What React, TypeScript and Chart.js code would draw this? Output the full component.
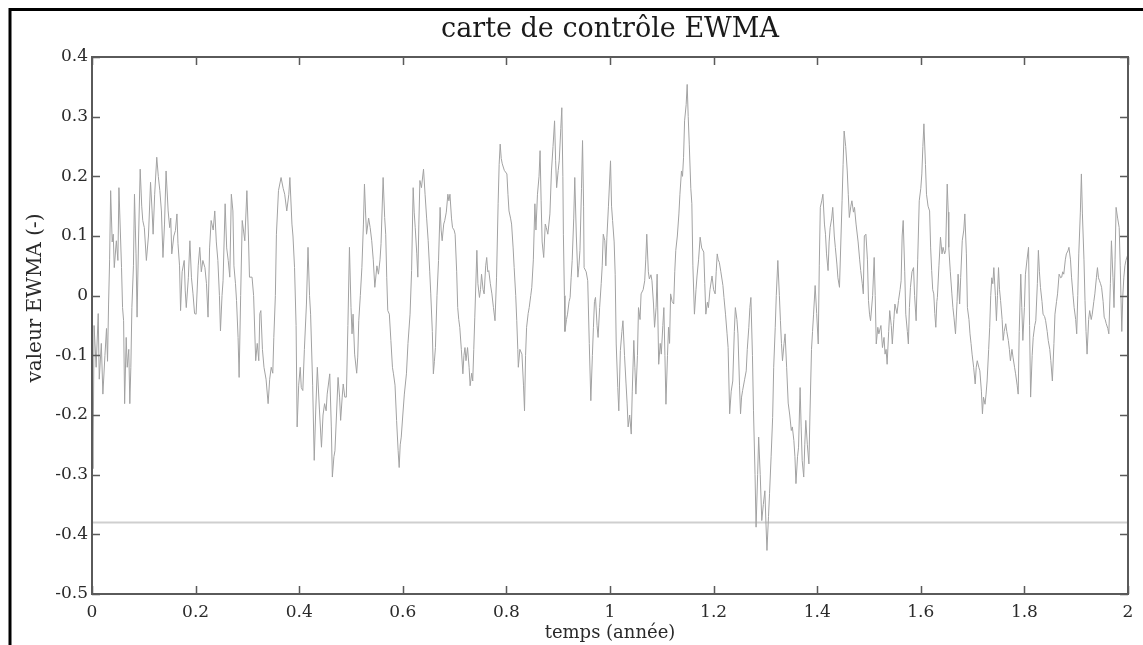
import React, { useEffect, useRef } from "react";
import { Chart, registerables } from "chart.js";
Chart.register(...registerables);

const titre = "carte de contrôle EWMA";
const xTitre = "temps (année)";
const yTitre = "valeur EWMA (-)";
const xTicks = [0, 0.2, 0.4, 0.6, 0.8, 1, 1.2, 1.4, 1.6, 1.8, 2];
const xTickLabels = ["0", "0.2", "0.4", "0.6", "0.8", "1", "1.2", "1.4", "1.6", "1.8", "2"];
const yTicks = [-0.5, -0.4, -0.3, -0.2, -0.1, 0, 0.1, 0.2, 0.3, 0.4];
const yTickLabels = ["-0.5", "-0.4", "-0.3", "-0.2", "-0.1", "0", "0.1", "0.2", "0.3", "0.4"];
const limiteTemps = [0, 2];
const limiteValeurs = [-0.38, -0.38];

// [temps (année), valeur EWMA]
const ewmaSeg1: [number, number][] = [
[0.000,-0.17],[0.002,-0.29],[0.004,-0.05],[0.008,-0.12],[0.012,-0.03],[0.014,-0.14],[0.018,-0.08],[0.021,-0.165],[0.025,-0.10],[0.028,-0.055],[0.030,-0.11],[0.032,-0.014],[0.034,0.06],[0.036,0.176],[0.039,0.09],[0.041,0.103],[0.043,0.047],[0.047,0.092],[0.050,0.059],[0.052,0.181],[0.055,0.10],[0.057,0.047],[0.059,-0.02],[0.061,-0.042],[0.063,-0.181],[0.066,-0.07],[0.068,-0.12],[0.071,-0.09],[0.073,-0.181],[0.075,-0.12],[0.077,-0.02],[0.080,0.05],[0.082,0.17],[0.085,0.07],[0.087,-0.036],[0.090,0.10],[0.093,0.212],[0.096,0.15],[0.098,0.126],[0.101,0.114],[0.105,0.059],[0.109,0.10],[0.113,0.19],[0.116,0.142],[0.118,0.103],[0.121,0.17],[0.125,0.232],[0.128,0.20],[0.131,0.176],[0.134,0.142],[0.137,0.064],[0.140,0.12],[0.143,0.209],[0.147,0.142],[0.150,0.114],[0.152,0.13],[0.154,0.07],[0.158,0.10],[0.161,0.109],[0.164,0.137],[0.166,0.087],[0.169,0.05],[0.171,-0.025],[0.174,0.04],[0.178,0.059],[0.180,0.008],[0.182,-0.02],[0.186,0.03],[0.189,0.092],[0.192,0.03],[0.195,0.003],[0.198,-0.03],[0.201,-0.031],[0.205,0.05],[0.208,0.081],[0.211,0.04],[0.214,0.059],[0.218,0.047],[0.221,0.02],[0.224,-0.036],[0.227,0.08],[0.230,0.126],[0.234,0.11],[0.237,0.142],[0.240,0.09],[0.243,0.059],[0.246,0.0],[0.248,-0.059],[0.251,0.0],[0.253,0.025],[0.257,0.154],[0.260,0.08],[0.263,0.059],[0.266,0.031],[0.269,0.17],[0.272,0.142],[0.274,0.05],[0.277,0.02],[0.279,-0.008],[0.282,-0.07],[0.284,-0.137],[0.287,0.0],[0.290,0.126],[0.295,0.092],[0.299,0.176],[0.302,0.10],[0.304,0.031],[0.309,0.031],[0.312,0.0],[0.316,-0.109],[0.319,-0.08],[0.322,-0.109],[0.324,-0.03],[0.326,-0.025],[0.329,-0.09],[0.332,-0.12],[0.336,-0.14],[0.340,-0.181],[0.343,-0.14],[0.346,-0.12],[0.349,-0.13],[0.351,-0.07],[0.354,0.0],[0.356,0.103],[0.360,0.176],[0.365,0.198],[0.369,0.18],[0.372,0.17],[0.376,0.142],[0.380,0.17],[0.382,0.198],[0.386,0.12],[0.388,0.1],[0.391,0.047],[0.394,-0.05],[0.396,-0.22],[0.399,-0.15],[0.402,-0.12],[0.404,-0.154],[0.407,-0.159],[0.410,-0.09],[0.414,-0.014],[0.417,0.081],[0.420,0.0],[0.422,-0.031],[0.426,-0.15],[0.429,-0.276],[0.432,-0.19],[0.435,-0.12],[0.439,-0.19],[0.443,-0.254],[0.446,-0.20],[0.449,-0.181],[0.452,-0.193],[0.454,-0.165],[0.459,-0.131],[0.462,-0.22],[0.464,-0.304],[0.467,-0.27],[0.469,-0.26],[0.472,-0.20],[0.475,-0.137],[0.478,-0.17],[0.480,-0.209],[0.483,-0.17],[0.485,-0.148],[0.488,-0.17],[0.491,-0.17],[0.494,-0.05],[0.497,0.081]
];

const ewmaSeg2: [number, number][] = [
[0.500,-0.02],[0.502,-0.064],[0.504,-0.031],[0.507,-0.098],[0.511,-0.13],[0.513,-0.103],[0.515,-0.042],[0.518,0.0],[0.521,0.047],[0.524,0.12],[0.526,0.187],[0.528,0.142],[0.530,0.103],[0.534,0.13],[0.537,0.114],[0.540,0.092],[0.543,0.06],[0.546,0.014],[0.550,0.05],[0.553,0.036],[0.556,0.06],[0.558,0.087],[0.562,0.198],[0.565,0.131],[0.567,0.103],[0.569,0.03],[0.571,-0.025],[0.574,-0.031],[0.577,-0.075],[0.580,-0.12],[0.582,-0.131],[0.585,-0.15],[0.588,-0.209],[0.591,-0.26],[0.593,-0.288],[0.595,-0.25],[0.597,-0.237],[0.600,-0.2],[0.603,-0.165],[0.607,-0.131],[0.610,-0.08],[0.614,-0.031],[0.617,0.042],[0.620,0.181],[0.622,0.14],[0.624,0.114],[0.627,0.07],[0.629,0.031],[0.631,0.12],[0.633,0.193],[0.636,0.181],[0.640,0.212],[0.643,0.17],[0.646,0.13],[0.649,0.092],[0.652,0.04],[0.654,0.003],[0.657,-0.06],[0.659,-0.131],[0.661,-0.11],[0.663,-0.087],[0.666,0.0],[0.669,0.059],[0.672,0.148],[0.674,0.11],[0.676,0.092],[0.679,0.12],[0.681,0.126],[0.684,0.14],[0.687,0.17],[0.689,0.159],[0.691,0.17],[0.694,0.13],[0.696,0.114],[0.699,0.11],[0.701,0.103],[0.704,0.04],[0.706,-0.02],[0.708,-0.04],[0.710,-0.053],[0.713,-0.09],[0.716,-0.131],[0.718,-0.1],[0.720,-0.087],[0.722,-0.109],[0.725,-0.087],[0.728,-0.12],[0.730,-0.151],[0.733,-0.13],[0.735,-0.143],[0.737,-0.09],[0.739,-0.036],[0.743,0.076],[0.745,0.02],[0.748,-0.003],[0.750,0.01],[0.752,0.036],[0.755,0.01],[0.757,0.003],[0.760,0.05],[0.762,0.064],[0.764,0.04],[0.766,0.042],[0.769,0.02],[0.772,0.003],[0.775,-0.02],[0.778,-0.042],[0.781,0.031],[0.784,0.154],[0.786,0.22],[0.788,0.254],[0.790,0.23],[0.792,0.221],[0.796,0.21],[0.801,0.204],[0.803,0.17],[0.805,0.142],[0.808,0.13],[0.810,0.12],[0.813,0.08],[0.815,0.047],[0.818,0.0],[0.820,-0.042],[0.822,-0.09],[0.823,-0.12],[0.826,-0.09],[0.830,-0.098],[0.833,-0.15],[0.835,-0.193],[0.837,-0.1],[0.839,-0.053],[0.842,-0.03],[0.844,-0.02],[0.847,0.0],[0.849,0.014],[0.852,0.06],[0.855,0.154],[0.857,0.11],[0.860,0.17],[0.863,0.2],[0.865,0.243],[0.867,0.16],[0.869,0.09],[0.872,0.064],[0.875,0.12],[0.877,0.114],[0.880,0.103],[0.882,0.12],[0.884,0.137],[0.887,0.209],[0.890,0.25],[0.893,0.293],[0.895,0.226],[0.897,0.181],[0.900,0.21],[0.902,0.226],[0.905,0.28],[0.907,0.315],[0.909,0.2],[0.910,0.103],[0.912,0.0],[0.913,-0.06],[0.916,-0.04],[0.918,-0.031],[0.921,-0.01],[0.923,-0.003],[0.925,0.03],[0.927,0.059],[0.930,0.13],[0.932,0.198],[0.935,0.1],[0.938,0.031],[0.940,0.05],[0.942,0.076],[0.945,0.18],[0.947,0.26],[0.949,0.15],[0.950,0.047],[0.954,0.04],[0.957,0.025],[0.960,-0.08],[0.963,-0.176],[0.966,-0.1],[0.968,-0.053],[0.970,-0.01],[0.972,-0.003],[0.975,-0.05],[0.977,-0.07],[0.980,-0.02],[0.983,0.02],[0.985,0.05],[0.987,0.103]
];

const ewmaSeg3: [number, number][] = [
[0.990,0.092],[0.992,0.05],[0.994,0.098],[0.997,0.15],[1.001,0.226],[1.003,0.15],[1.005,0.126],[1.008,0.09],[1.010,0.036],[1.012,-0.081],[1.015,-0.154],[1.017,-0.193],[1.020,-0.092],[1.023,-0.06],[1.025,-0.042],[1.028,-0.1],[1.031,-0.148],[1.033,-0.18],[1.035,-0.22],[1.038,-0.2],[1.041,-0.232],[1.043,-0.16],[1.046,-0.075],[1.048,-0.12],[1.050,-0.165],[1.053,-0.1],[1.055,-0.02],[1.058,-0.04],[1.060,0.003],[1.064,0.01],[1.067,0.025],[1.069,0.06],[1.071,0.103],[1.074,0.04],[1.076,0.028],[1.079,0.035],[1.081,0.025],[1.084,-0.014],[1.086,-0.053],[1.089,-0.02],[1.091,0.036],[1.094,-0.115],[1.097,-0.08],[1.099,-0.098],[1.102,-0.05],[1.104,-0.02],[1.106,-0.1],[1.108,-0.182],[1.111,-0.1],[1.113,-0.053],[1.115,-0.08],[1.117,0.003],[1.120,-0.01],[1.123,-0.014],[1.125,0.04],[1.127,0.076],[1.130,0.1],[1.133,0.137],[1.135,0.17],[1.138,0.209],[1.140,0.2],[1.142,0.232],[1.144,0.293],[1.147,0.32],[1.149,0.354],[1.151,0.3],[1.153,0.254],[1.156,0.18],[1.158,0.154],[1.160,0.05],[1.163,-0.031],[1.166,0.01],[1.168,0.033],[1.171,0.06],[1.174,0.098],[1.177,0.08],[1.181,0.073],[1.183,0.02],[1.185,-0.031],[1.188,-0.011],[1.190,-0.02],[1.193,0.01],[1.197,0.033],[1.200,0.01],[1.203,0.003],[1.205,0.04],[1.207,0.07],[1.209,0.06],[1.211,0.056],[1.214,0.04],[1.218,0.017],[1.220,-0.003],[1.223,-0.031],[1.226,-0.064],[1.228,-0.087],[1.231,-0.198],[1.234,-0.16],[1.237,-0.143],[1.240,-0.06],[1.242,-0.02],[1.245,-0.04],[1.247,-0.064],[1.250,-0.15],[1.252,-0.198],[1.254,-0.17],[1.256,-0.159],[1.260,-0.14],[1.263,-0.126],[1.265,-0.09],[1.268,-0.053],[1.270,-0.02],[1.272,-0.003],[1.275,-0.1],[1.277,-0.193],[1.280,-0.3],[1.282,-0.388],[1.285,-0.3],[1.287,-0.237],[1.290,-0.3],[1.293,-0.377],[1.296,-0.35],[1.299,-0.327],[1.301,-0.38],[1.303,-0.427],[1.306,-0.37],[1.308,-0.332],[1.311,-0.27],[1.314,-0.204],[1.316,-0.12],[1.319,-0.053],[1.321,0.0],[1.324,0.059],[1.327,0.0],[1.329,-0.042],[1.331,-0.08],[1.333,-0.109],[1.336,-0.08],[1.338,-0.064],[1.341,-0.12],[1.344,-0.18],[1.347,-0.2],[1.350,-0.226],[1.352,-0.22],[1.355,-0.243],[1.357,-0.27],[1.359,-0.315],[1.362,-0.27],[1.364,-0.254],[1.367,-0.154],[1.369,-0.22],[1.371,-0.276],[1.374,-0.304],[1.376,-0.25],[1.378,-0.209],[1.381,-0.25],[1.384,-0.282],[1.386,-0.2],[1.389,-0.09],[1.391,-0.06],[1.393,-0.031],[1.396,0.017],[1.399,-0.03],[1.402,-0.081],[1.404,0.05],[1.406,0.148],[1.409,0.16],[1.411,0.17],[1.414,0.12],[1.416,0.103],[1.418,0.07],[1.421,0.042],[1.423,0.09],[1.425,0.114],[1.428,0.13],[1.430,0.148],[1.433,0.1],[1.435,0.081],[1.438,0.053],[1.440,0.03],[1.443,0.014],[1.446,0.1],[1.448,0.159],[1.450,0.22],[1.452,0.276],[1.455,0.25],[1.458,0.209],[1.460,0.17],[1.462,0.131],[1.465,0.15],[1.467,0.159],[1.470,0.14],[1.472,0.148],[1.475,0.12],[1.479,0.09],[1.482,0.06],[1.484,0.042],[1.487,0.02],[1.489,0.003]
];

const ewmaSeg4: [number, number][] = [
[1.491,0.1],[1.494,0.103],[1.497,0.06],[1.499,-0.008],[1.501,-0.031],[1.503,-0.042],[1.507,0.0],[1.510,0.064],[1.512,0.0],[1.514,-0.081],[1.517,-0.053],[1.519,-0.064],[1.523,-0.05],[1.526,-0.087],[1.529,-0.07],[1.531,-0.098],[1.533,-0.09],[1.535,-0.115],[1.538,-0.06],[1.540,-0.025],[1.543,-0.05],[1.545,-0.081],[1.548,-0.04],[1.550,-0.014],[1.554,-0.03],[1.557,-0.008],[1.560,0.01],[1.562,0.025],[1.564,0.1],[1.566,0.126],[1.569,0.04],[1.571,-0.031],[1.574,-0.06],[1.576,-0.081],[1.578,-0.02],[1.580,0.014],[1.583,0.04],[1.586,0.047],[1.588,0.0],[1.591,-0.042],[1.594,0.06],[1.597,0.159],[1.600,0.18],[1.602,0.204],[1.604,0.25],[1.606,0.288],[1.609,0.22],[1.611,0.17],[1.614,0.15],[1.617,0.142],[1.619,0.08],[1.621,0.042],[1.623,0.01],[1.625,0.003],[1.627,-0.03],[1.629,-0.053],[1.631,-0.01],[1.632,-0.003],[1.635,0.05],[1.638,0.098],[1.641,0.07],[1.643,0.081],[1.646,0.07],[1.648,0.076],[1.651,0.187],[1.653,0.14],[1.654,0.081],[1.657,0.04],[1.660,0.003],[1.662,-0.02],[1.664,-0.036],[1.667,-0.064],[1.670,-0.01],[1.672,0.036],[1.675,-0.014],[1.677,0.03],[1.680,0.092],[1.683,0.11],[1.685,0.137],[1.688,0.07],[1.690,-0.02],[1.693,-0.04],[1.695,-0.064],[1.697,-0.08],[1.699,-0.098],[1.702,-0.12],[1.705,-0.148],[1.707,-0.12],[1.709,-0.109],[1.712,-0.12],[1.714,-0.126],[1.717,-0.16],[1.719,-0.198],[1.721,-0.17],[1.724,-0.182],[1.726,-0.165],[1.728,-0.143],[1.731,-0.09],[1.733,-0.053],[1.735,0.0],[1.737,0.03],[1.739,0.02],[1.741,0.047],[1.744,0.0],[1.746,-0.042],[1.748,0.0],[1.750,0.047],[1.752,0.01],[1.754,-0.008],[1.757,-0.04],[1.759,-0.075],[1.761,-0.06],[1.764,-0.047],[1.766,-0.06],[1.769,-0.075],[1.771,-0.09],[1.773,-0.109],[1.776,-0.09],[1.778,-0.103],[1.781,-0.12],[1.783,-0.131],[1.786,-0.15],[1.788,-0.165],[1.790,-0.06],[1.793,0.036],[1.795,-0.02],[1.797,-0.075],[1.800,-0.02],[1.802,0.036],[1.805,0.06],[1.808,0.081],[1.810,-0.05],[1.812,-0.17],[1.815,-0.1],[1.817,-0.07],[1.820,-0.05],[1.822,-0.042],[1.825,0.02],[1.827,0.076],[1.829,0.04],[1.831,0.014],[1.834,-0.01],[1.836,-0.031],[1.839,-0.035],[1.841,-0.042],[1.844,-0.06],[1.846,-0.075],[1.849,-0.09],[1.851,-0.109],[1.854,-0.143],[1.857,-0.08],[1.859,-0.031],[1.862,-0.01],[1.864,0.003],[1.867,0.036],[1.870,0.03],[1.872,0.031],[1.874,0.04],[1.876,0.036],[1.879,0.06],[1.881,0.07],[1.884,0.075],[1.886,0.081],[1.889,0.06],[1.891,0.031],[1.894,0.0],[1.896,-0.02],[1.899,-0.04],[1.901,-0.064],[1.903,0.0],[1.905,0.07],[1.908,0.14],[1.910,0.204],[1.912,0.137],[1.915,0.06],[1.917,-0.008],[1.919,-0.06],[1.921,-0.098],[1.924,-0.04],[1.926,-0.025],[1.929,-0.04],[1.931,-0.031],[1.934,-0.01],[1.936,0.003],[1.939,0.03],[1.941,0.047],[1.943,0.03],[1.945,0.025],[1.947,0.02],[1.949,0.014],[1.952,-0.01],[1.954,-0.036],[1.956,-0.04],[1.958,-0.047],[1.961,-0.055],[1.963,-0.064],[1.966,0.02],[1.968,0.092],[1.971,0.03],[1.973,-0.02],[1.975,0.06],[1.977,0.148],[1.980,0.13],[1.983,0.114],[1.985,0.05],[1.988,-0.06],[1.990,0.0],[1.992,0.031],[1.994,0.05],[1.996,0.059],[2.000,0.07]
];

const SERIF = "'DejaVu Serif', 'Liberation Serif', serif";

const framePlugin = {
  id: "matlabFrame",
  afterDraw(chart: any) {
    const ctx = chart.ctx;
    const { left, right, top, bottom } = chart.chartArea;
    const xs = chart.scales.x;
    const ys = chart.scales.y;
    ctx.save();
    // outer figure border (top / left)
    ctx.strokeStyle = "#000";
    ctx.lineWidth = 3;
    ctx.beginPath();
    ctx.moveTo(10, 645);
    ctx.lineTo(10, 9.5);
    ctx.lineTo(1143, 9.5);
    ctx.stroke();
    // axes box
    ctx.strokeStyle = "#5a5a5a";
    ctx.lineWidth = 2;
    ctx.strokeRect(left, top, right - left, bottom - top);
    // inward ticks
    ctx.lineWidth = 1.5;
    ctx.beginPath();
    xTicks.forEach((v) => {
      const px = Math.round(xs.getPixelForValue(v)) + 0.5;
      ctx.moveTo(px, bottom);
      ctx.lineTo(px, bottom - 8);
      ctx.moveTo(px, top);
      ctx.lineTo(px, top + 8);
    });
    yTicks.forEach((v) => {
      const py = Math.round(ys.getPixelForValue(v)) + 0.5;
      ctx.moveTo(left, py);
      ctx.lineTo(left + 8, py);
      ctx.moveTo(right, py);
      ctx.lineTo(right - 8, py);
    });
    ctx.stroke();
    // y axis title
    ctx.translate(36, 298);
    ctx.rotate(-Math.PI / 2);
    ctx.fillStyle = "#2a2a2a";
    ctx.font = "20px " + SERIF;
    ctx.textAlign = "center";
    ctx.textBaseline = "middle";
    ctx.fillText(yTitre, 0, 0);
    ctx.restore();
  },
};

export default function App() {
  const ref = useRef<HTMLCanvasElement | null>(null);
  useEffect(() => {
    if (!ref.current) return;
    const toXY = (seg: [number, number][]) => seg.map(([x, y]) => ({ x, y }));
    const ewma = [...toXY(ewmaSeg1), ...toXY(ewmaSeg2), ...toXY(ewmaSeg3), ...toXY(ewmaSeg4)];
    const limite = limiteTemps.map((x, i) => ({ x, y: limiteValeurs[i] }));
    const chart = new Chart(ref.current, {
      type: "line",
      data: {
        datasets: [
          {
            label: "EWMA",
            data: ewma,
            borderColor: "#a2a2a2",
            borderWidth: 1,
            pointRadius: 0,
            tension: 0,
            order: 1,
          },
          {
            label: "limite inférieure",
            data: limite,
            borderColor: "#cfcfcf",
            borderWidth: 2,
            pointRadius: 0,
            order: 2,
          },
        ],
      },
      options: {
        animation: false,
        responsive: true,
        maintainAspectRatio: false,
        devicePixelRatio: 1,
        layout: { padding: { top: 0, left: 0, right: 15, bottom: 0 } },
        plugins: {
          legend: { display: false },
          tooltip: { enabled: false },
          title: {
            display: true,
            text: titre,
            fullSize: false,
            color: "#1a1a1a",
            font: { family: SERIF, size: 27, weight: "normal" },
            padding: { top: 14, bottom: 10.6 },
          },
        },
        scales: {
          x: {
            type: "linear",
            min: 0,
            max: 2,
            afterBuildTicks: (s: any) => {
              s.ticks = xTicks.map((v) => ({ value: v }));
            },
            afterFit: (s: any) => {
              s.height = 51;
            },
            grid: { display: false, drawTicks: false },
            border: { display: false },
            ticks: {
              autoSkip: false,
              maxRotation: 0,
              padding: 8,
              color: "#2a2a2a",
              font: { family: SERIF, size: 17 },
              callback: (_v: any, i: number) => xTickLabels[i],
            },
            title: {
              display: true,
              text: xTitre,
              color: "#2a2a2a",
              font: { family: SERIF, size: 18 },
              padding: { top: 0, bottom: 1 },
            },
          },
          y: {
            type: "linear",
            min: -0.5,
            max: 0.4,
            afterBuildTicks: (s: any) => {
              s.ticks = yTicks.map((v) => ({ value: v }));
            },
            afterFit: (s: any) => {
              s.width = 92;
            },
            grid: { display: false, drawTicks: false },
            border: { display: false },
            ticks: {
              autoSkip: false,
              padding: 4,
              color: "#2a2a2a",
              font: { family: SERIF, size: 17 },
              callback: (_v: any, i: number) => yTickLabels[i],
            },
          },
        },
      },
      plugins: [framePlugin],
    });
    return () => chart.destroy();
  }, []);
  return (
    <div style={{ position: "fixed", left: 0, top: 0, width: 1143, height: 645, background: "#fff" }}>
      <canvas ref={ref} />
    </div>
  );
}
